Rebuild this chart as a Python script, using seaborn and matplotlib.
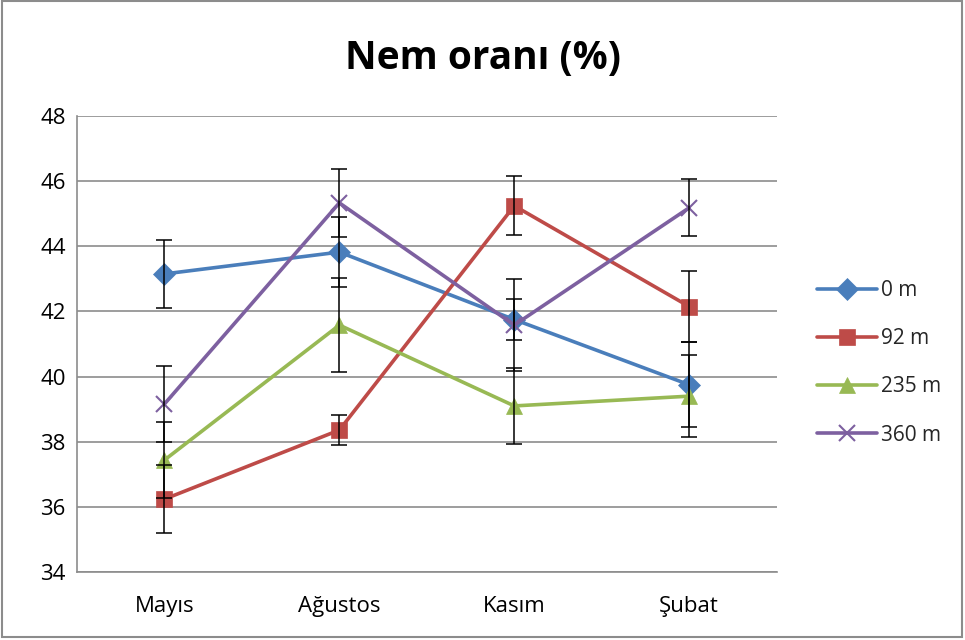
import matplotlib
matplotlib.use("Agg")
import matplotlib.pyplot as plt
import seaborn as sns
import pandas as pd

months = ["Mayıs", "Ağustos", "Kasım", "Şubat"]
series = ["0 m", "92 m", "235 m", "360 m"]

vals_0 = [43.15, 43.82, 41.75, 39.75]
vals_92 = [36.24, 38.36, 45.24, 42.15]
vals_235 = [37.44, 41.58, 39.10, 39.40]
vals_360 = [39.16, 45.33, 41.58, 45.18]

err_0 = [1.05, 1.08, 0.62, 1.30]
err_92 = [1.05, 0.46, 0.90, 1.08]
err_235 = [1.16, 1.45, 1.17, 1.25]
err_360 = [1.17, 1.04, 1.40, 0.88]

colors = ["#4A7EBB", "#BE4B48", "#98B954", "#7D60A0"]
markers = ["D", "s", "^", "x"]
msizes = [11, 12, 12, 12]

rows = []
for name, v, e in zip(series, [vals_0, vals_92, vals_235, vals_360],
                      [err_0, err_92, err_235, err_360]):
    for i, m in enumerate(months):
        rows.append({"Ay": m, "x": i, "Seri": name, "Nem": v[i], "Hata": e[i]})
df = pd.DataFrame(rows)

sns.set_style("white")
plt.rcParams["font.family"] = ["Open Sans", "DejaVu Sans"]

fig = plt.figure(figsize=(9.65, 6.4), dpi=100)
ax = fig.add_axes([0.0798, 0.106, 0.725, 0.713])

for name, c, mk, ms in zip(series, colors, markers, msizes):
    d = df[df["Seri"] == name]
    sns.lineplot(data=d, x="x", y="Nem", ax=ax, color=c, linewidth=2.6,
                 marker=mk, markersize=ms, markeredgecolor=c,
                 markeredgewidth=1.5 if mk == "x" else 0.5, label=name)
    ax.errorbar(d["x"], d["Nem"], yerr=d["Hata"], fmt="none", ecolor="black",
                elinewidth=1.1, capsize=6, capthick=1.1, zorder=5)

ax.set_xlim(-0.5, 3.5)
ax.set_ylim(34, 48)
ax.set_yticks(range(34, 49, 2))
ax.set_xticks(range(4))
ax.set_xticklabels(months)
ax.set_xlabel("")
ax.set_ylabel("")
ax.tick_params(axis="both", length=0, labelsize=16, colors="black")
ax.tick_params(axis="x", pad=17)
ax.tick_params(axis="y", pad=8)
ax.yaxis.grid(True, color="#8c8c8c", linewidth=1.2)
ax.xaxis.grid(False)
for s in ["top", "right"]:
    ax.spines[s].set_visible(False)
for s in ["left", "bottom"]:
    ax.spines[s].set_color("#8c8c8c")
    ax.spines[s].set_linewidth(1.2)

fig.text(0.5, 0.909, "Nem oranı (%)", ha="center", va="center",
         fontsize=28, fontweight="bold", color="black")

leg = ax.legend(loc="center left", bbox_to_anchor=(0.827, 0.433),
                bbox_transform=fig.transFigure, frameon=False, fontsize=15,
                labelspacing=1.3, handlelength=2.9, handletextpad=0.2)

fig.add_artist(plt.Rectangle((0.002, 0.004), 0.995, 0.994, transform=fig.transFigure,
                             fill=False, edgecolor="#8c8c8c", linewidth=1.5))

fig.savefig("out.png", dpi=100)
